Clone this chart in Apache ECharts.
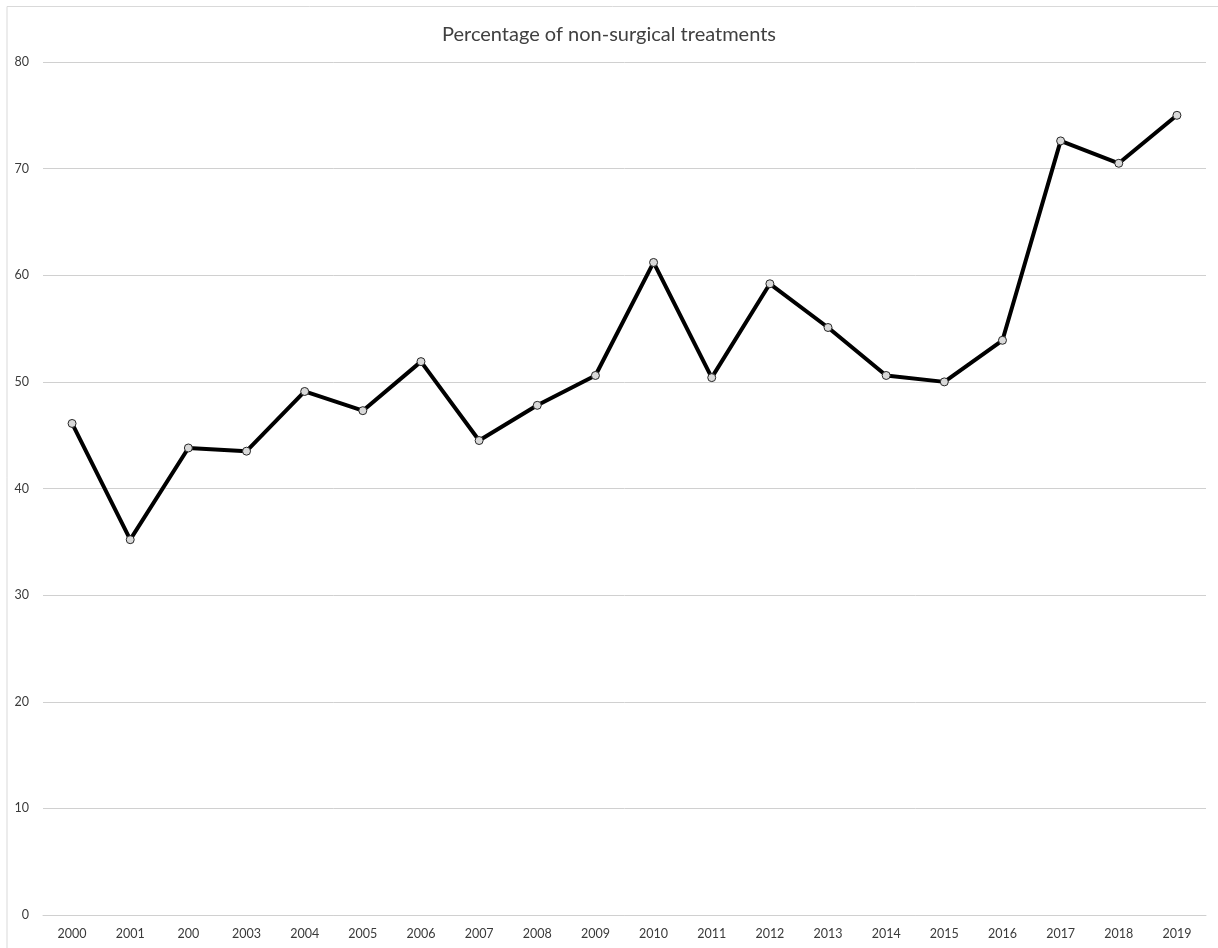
<!DOCTYPE html>
<html>
<head>
<meta charset="utf-8">
<script src="https://cdn.jsdelivr.net/npm/echarts@6/dist/echarts.min.js"></script>
<style>
html,body{margin:0;padding:0;background:#fff;}
#chart{width:1218px;height:948px;}
</style>
</head>
<body>
<div id="chart"></div>
<script>
const titleText = 'Percentage of non-surgical treatments';
const categories = ['2000','2001','200','2003','2004','2005','2006','2007','2008','2009','2010','2011','2012','2013','2014','2015','2016','2017','2018','2019'];
const values = [46.1, 35.2, 43.8, 43.5, 49.1, 47.3, 51.9, 44.5, 47.8, 50.6, 61.2, 50.4, 59.2, 55.1, 50.6, 50.0, 53.9, 72.6, 70.5, 75.0];
const yTicks = {min: 0, max: 80, interval: 10};

const chart = echarts.init(document.getElementById('chart'), null, {renderer: 'canvas'});
chart.setOption({
  animation: false,
  backgroundColor: '#fff',
  title: {
    text: titleText,
    left: 'center',
    top: 20,
    textStyle: {fontFamily: 'Lato', fontSize: 20, fontWeight: 'normal', color: '#404040'}
  },
  grid: {left: 43, right: 12, top: 62, bottom: 33, containLabel: false},
  xAxis: {
    type: 'category',
    data: categories,
    boundaryGap: true,
    axisLine: {show: true, lineStyle: {color: '#d0d0d0', width: 1}},
    axisTick: {show: false},
    axisLabel: {fontFamily: 'Lato', fontSize: 12.5, color: '#3a3a3a', margin: 12, interval: 0}
  },
  yAxis: {
    type: 'value',
    min: yTicks.min, max: yTicks.max, interval: yTicks.interval,
    axisLine: {show: false},
    axisTick: {show: false},
    axisLabel: {fontFamily: 'Lato', fontSize: 12.5, color: '#3a3a3a', margin: 14},
    splitLine: {show: true, lineStyle: {color: '#d0d0d0', width: 1}}
  },
  graphic: [{
    type: 'polyline',
    shape: {points: [[7, 948], [7, 6.5], [1218, 6.5]]},
    style: {stroke: '#d9d9d9', lineWidth: 1, fill: null},
    silent: true
  }],
  series: [{
    type: 'line',
    data: values,
    symbol: 'circle',
    symbolSize: 8,
    lineStyle: {color: '#000', width: 4},
    itemStyle: {color: '#d9d9d9', borderColor: '#262626', borderWidth: 1},
    z: 3
  }]
});
</script>
</body>
</html>
